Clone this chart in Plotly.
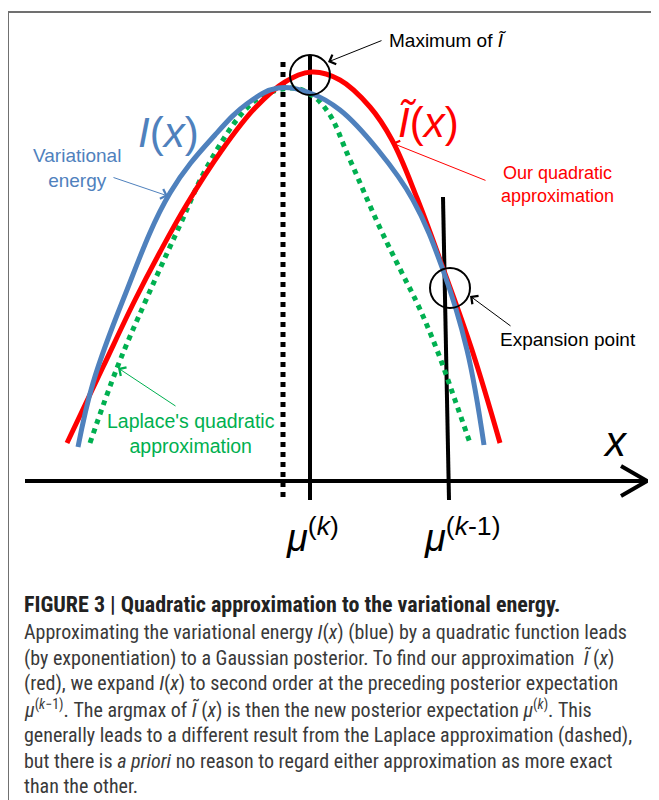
import plotly.graph_objects as go

# curve samples (pixel units, y grows downward)
blue_x = [78, 93, 123, 170, 215, 248, 278, 310, 340, 378, 413, 443, 467, 484]
blue_y = [447, 383, 300, 193, 135, 103, 88, 93, 110, 150, 200, 270, 350, 445]

red_x = [67, 103, 135, 160, 187, 222, 255, 285, 312, 340, 370, 392, 417, 443, 472, 500]
red_y = [443, 367, 300, 252, 204, 150, 108, 82, 72, 80, 107, 140, 198, 268, 350, 443]

green_x = [90, 117, 146, 180, 207, 245, 265, 292, 310, 328, 350, 380, 403, 418, 437, 455, 470]
green_y = [443, 368, 300, 225, 167, 110, 95, 88, 94, 112, 160, 228, 275, 305, 350, 400, 443]

axis_x = [25, 645]
axis_y = [481, 481]
head_x = [621, 647, 621]
head_y = [466, 481, 496]

mu_k_x = [310, 310]
mu_k_y = [55, 500]
mu_km1_x = [443, 449]
mu_km1_y = [197, 500]
laplace_x = [283, 283]
laplace_y = [62, 497]

circle_x = [310, 450]
circle_y = [75, 288]

caption_title = "FIGURE 3 | Quadratic approximation to the variational energy."
caption_lines = [
    "Approximating the variational energy <i>I</i>(<i>x</i>) (blue) by a quadratic function leads",
    "(by exponentiation) to a Gaussian posterior. To find our approximation  <i>Ĩ</i> (<i>x</i>)",
    "(red), we expand <i>I</i>(<i>x</i>) to second order at the preceding posterior expectation",
    "<i>μ</i><sup>(<i>k</i>−1)</sup>. The argmax of <i>Ĩ</i> (<i>x</i>) is then the new posterior expectation <i>μ</i><sup>(<i>k</i>)</sup>. This",
    "generally leads to a different result from the Laplace approximation (dashed),",
    "but there is <i>a priori</i> no reason to regard either approximation as more exact",
    "than the other.",
]

BLUE = "#4F81BD"
RED = "#FF0000"
GREEN = "#00B050"
LABEL_FONT = "Arial, Liberation Sans, sans-serif"
CAP_FONT = "Liberation Sans Narrow, Roboto Condensed, DejaVu Sans Condensed, sans-serif"

fig = go.Figure()

fig.add_trace(go.Scatter(x=laplace_x, y=laplace_y, mode="lines",
                         line=dict(color="black", width=5, dash="dot")))
fig.add_trace(go.Scatter(x=mu_k_x, y=mu_k_y, mode="lines", line=dict(color="black", width=4)))
fig.add_trace(go.Scatter(x=mu_km1_x, y=mu_km1_y, mode="lines", line=dict(color="black", width=4)))
fig.add_trace(go.Scatter(x=axis_x, y=axis_y, mode="lines", line=dict(color="black", width=4)))
fig.add_trace(go.Scatter(x=head_x, y=head_y, mode="lines", line=dict(color="black", width=4)))

fig.add_trace(go.Scatter(x=green_x, y=green_y, mode="lines",
                         line=dict(color=GREEN, width=5, dash="dot", shape="spline", smoothing=1.1)))
fig.add_trace(go.Scatter(x=red_x, y=red_y, mode="lines",
                         line=dict(color=RED, width=5, shape="spline", smoothing=1.1)))
fig.add_trace(go.Scatter(x=blue_x, y=blue_y, mode="lines",
                         line=dict(color=BLUE, width=5, shape="spline", smoothing=1.1)))

fig.add_trace(go.Scatter(x=circle_x, y=circle_y, mode="markers",
                         marker=dict(symbol="circle-open", size=40, color="black",
                                     line=dict(width=2, color="black"))))

# frame round the whole figure
fig.add_shape(type="rect", x0=8, y0=12, x1=720, y1=900,
              line=dict(color="#707070", width=2), layer="below")

def label(text, x, y, color, size, anchor="center"):
    fig.add_annotation(x=x, y=y, text=text, showarrow=False, xanchor=anchor, yanchor="middle",
                       align="center", font=dict(family=LABEL_FONT, size=size, color=color))

def pointer(x, y, ax, ay, color):
    fig.add_annotation(x=x, y=y, ax=ax, ay=ay, axref="x", ayref="y", text="",
                       showarrow=True, arrowhead=4, arrowsize=2, arrowwidth=1, arrowcolor=color)

label("<i>I</i>(<i>x</i>)", 168, 132, BLUE, 42)
label("<i>Ĩ</i>(<i>x</i>)", 428, 122, RED, 42)
label("Variational<br>energy", 77, 168, BLUE, 19)
label("Our quadratic<br>approximation", 557, 184, RED, 18)
label("Expansion point", 568, 339, "black", 19)
label("Laplace's quadratic<br>approximation", 191, 433, GREEN, 19.5)
label("Maximum of <i>Ĩ</i>", 387, 40, "black", 19, anchor="left")
label("<i>x</i>", 615, 441, "black", 42)
label("<i>μ</i><sup>(<i>k</i>)</sup>", 312, 535, "black", 38)
label("<i>μ</i><sup>(<i>k</i>-1)</sup>", 462, 535, "black", 38)

pointer(168, 196, 112, 177, BLUE)
pointer(392, 143, 487, 181, RED)
pointer(470, 296, 512, 327, "black")
pointer(118, 368, 177, 407, GREEN)
pointer(328, 62, 383, 40, "black")

fig.add_annotation(x=22, y=604, text="<b>" + caption_title + "</b>", showarrow=False,
                   xanchor="left", yanchor="middle",
                   font=dict(family=CAP_FONT, size=22, color="#222222"))
for i, line in enumerate(caption_lines):
    fig.add_annotation(x=22, y=632 + i * 25.7, text=line, showarrow=False,
                       xanchor="left", yanchor="middle",
                       font=dict(family=CAP_FONT, size=20, color="#3a3a3a"))

# the page puts the figure 8px in from the corner, so the ranges start at 8
fig.update_layout(
    width=659, height=800,
    margin=dict(l=0, r=0, t=0, b=0),
    paper_bgcolor="white", plot_bgcolor="white",
    showlegend=False,
    xaxis=dict(range=[8, 667], visible=False, fixedrange=True),
    yaxis=dict(range=[808, 8], visible=False, fixedrange=True),
)

fig.write_html("out.html")
